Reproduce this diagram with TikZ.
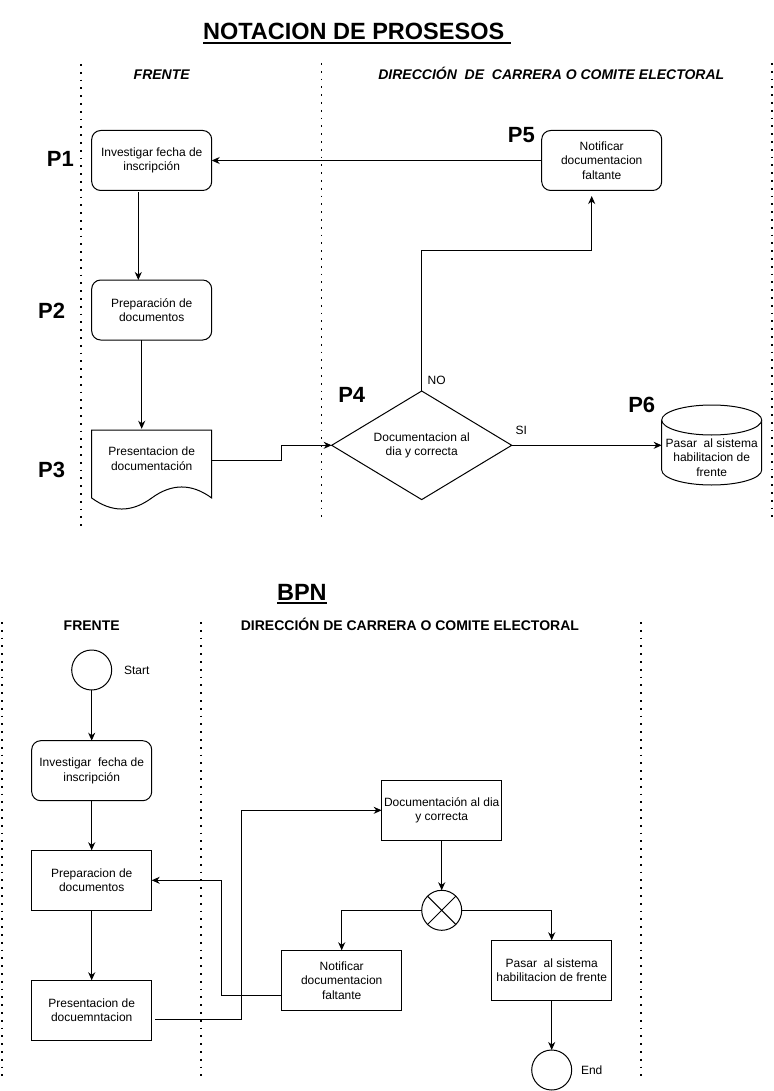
\documentclass[tikz,border=0pt]{standalone}
\usepackage{fontspec}
\setmainfont{Liberation Sans}
\usetikzlibrary{arrows.meta,shapes.geometric,calc}

% underlined heading with a thick rule
\newcommand{\thickrule}[1]{\vtop{\hbox{#1}\kern2.2pt\hrule height 2pt}}

\begin{document}
\begin{tikzpicture}[x=1pt,y=-1pt,
  every node/.style={inner sep=0pt, outer sep=0pt},
  lane/.style={line width=1.8pt, dash pattern=on 1.8pt off 6pt},
  txt/.style={font=\fontsize{12}{14.4}\selectfont, align=center},
  box/.style={txt, draw, line width=1pt, fill=white, minimum width=120pt, minimum height=60pt},
  rbox/.style={box, rounded corners=9pt},
  plabel/.style={anchor=base, font=\fontsize{22}{26}\selectfont\bfseries},
  lanehead/.style={anchor=base, font=\fontsize{14}{17}\selectfont\bfseries},
  heading/.style={anchor=base, font=\fontsize{23.5}{28}\selectfont\bfseries},
  small/.style={anchor=base, font=\fontsize{12}{14.4}\selectfont},
  arr/.style={line width=1pt, -{Stealth[length=8pt,width=7pt,inset=2.5pt]}},
  ring/.style={draw, circle, line width=1pt, fill=white, minimum size=40pt},
]
\useasboundingbox (0,0) rectangle (773,1091);

% ---------------- swimlane separators ----------------
\foreach \x/\a/\b in {81.3/64/529, 321.4/63/520, 771.7/63/520,
                      2/622/1080, 201/622/1080, 641/622/1080}
  \draw[lane] (\x,\a) -- (\x,\b);

% ================= process notation =================
\node[heading] (title1) at (356.9,40) {\thickrule{NOTACION DE PROSESOS\ }};
\node[lanehead, font=\fontsize{14}{17}\selectfont\bfseries\itshape] (lane1a) at (161.7,79.5) {FRENTE};
\node[lanehead, font=\fontsize{14}{17}\selectfont\bfseries\itshape] (lane1b) at (551.3,80) {DIRECCIÓN\ \ DE\ \ CARRERA O COMITE ELECTORAL};

\node[rbox] (p1) at (151.7,160.5) {Investigar fecha de\\inscripción};
\node[rbox] (p2) at (151.7,310) {Preparación de\\documentos};

% document shape with wavy bottom edge
\draw[line width=1pt, fill=white] (91.7,430) -- (211.7,430) -- (211.7,498)
  .. controls (191.7,483.3) and (171.7,483.3) .. (151.7,498)
  .. controls (131.7,512.7) and (111.7,512.7) .. (91.7,498) -- cycle;
\node[txt, minimum width=120pt, minimum height=60pt] (p3) at (151.7,458.8) {Presentacion de\\documentación};

\node[diamond, aspect=1.66, draw, line width=1pt, fill=white, txt, minimum width=180pt, minimum height=108.6pt] (p4) at (421.7,445.3) {Documentacion al\\dia y correcta};

\node[rbox] (p5) at (601.7,160.5) {Notificar\\documentacion\\faltante};

% storage cylinder
\draw[line width=1pt, fill=white] (661.7,420) -- (661.7,470)
  arc[start angle=180, end angle=360, x radius=50pt, y radius=15pt] -- (761.7,420);
\draw[line width=1pt, fill=white] (711.7,420) ellipse [x radius=50pt, y radius=15pt];
\node[txt, minimum width=100pt] (p6) at (711.7,457.5) {Pasar\ \ al sistema\\habilitacion de\\frente};

% step labels
\node[plabel] (lp1) at (60.3,167) {P1};
\node[plabel] (lp2) at (51.7,318.3) {P2};
\node[plabel] (lp3) at (51.7,477.3) {P3};
\node[plabel] (lp4) at (351.7,402.7) {P4};
\node[plabel] (lp5) at (521.3,142.7) {P5};
\node[plabel] (lp6) at (641.7,412.7) {P6};
\node[small] (lno) at (436.7,384) {NO};
\node[small] (lsi) at (521.3,434) {SI};

% connectors
\draw[arr, shorten <=2pt] ([xshift=-13.4pt]p1.south) -- ([xshift=-13.4pt]p2.north);
\draw[arr] ([xshift=-10pt]p2.south) -- ([xshift=-10pt]p3.north);
\coordinate (j3) at (281.7,445.3);
\draw[arr] ([yshift=-1.5pt]p3.east) -| (j3) -- (p4.west);
\coordinate (j4) at (591.7,250.7);
\coordinate (j5) at ([xshift=-10pt,yshift=-5.5pt]p5.south);
\draw[arr] (p4.north) |- (j4) -- (j5);
\draw[arr] (p5.west) -- (p1.east);
\draw[arr] (p4.east) -- (p4.east -| p6.west);

% ================= BPN =================
\node[heading] (title2) at (301.9,600) {\thickrule{BPN}};
\node[lanehead] (lane2a) at (91.7,630.3) {FRENTE};
\node[lanehead] (lane2b) at (409.9,630.3) {DIRECCIÓN DE CARRERA O COMITE ELECTORAL};

\node[ring] (start) at (91.7,670) {};
\node[small] (startlbl) at (136.7,674) {Start};
\node[rbox] (b1) at (91.7,770.7) {Investigar\ \ fecha de\\inscripción};
\node[box] (b2) at (91.7,880.3) {Preparacion de\\documentos};
\node[box] (b3) at (91.7,1010.3) {Presentacion de\\docuemntacion};
\node[box] (b4) at (441.7,810.3) {Documentación al dia\\y correcta};
\node[ring] (gw) at (441.7,910.3) {};
\draw[line width=1pt] (gw.north west) -- (gw.south east) (gw.north east) -- (gw.south west);
\node[box] (b5) at (341.7,980.3) {Notificar\\documentacion\\faltante};
\node[box] (b6) at (551.7,970.3) {Pasar\ \ al sistema\\habilitacion de frente};
\node[ring] (endc) at (551.7,1070) {};
\node[small] (endlbl) at (591.7,1074.3) {End};

\draw[arr] (start.south) -- (b1.north);
\draw[arr] (b1.south) -- (b2.north);
\draw[arr] (b2.south) -- (b3.north);
\coordinate (k1) at (241.7,810.3);
\draw[arr] ([shift={(3.3,9)}]b3.east) -| (k1) -- (b4.west);
\draw[arr] (b4.south) -- (gw.north);
\draw[arr] (gw.west) -| (b5.north);
\draw[arr] (gw.east) -| (b6.north);
\coordinate (k2) at (221.7,880.3);
\draw[arr] ([yshift=-15pt]b5.west) -| (k2) -- (b2.east);
\draw[arr] (b6.south) -- (endc.north);

\end{tikzpicture}
\end{document}
